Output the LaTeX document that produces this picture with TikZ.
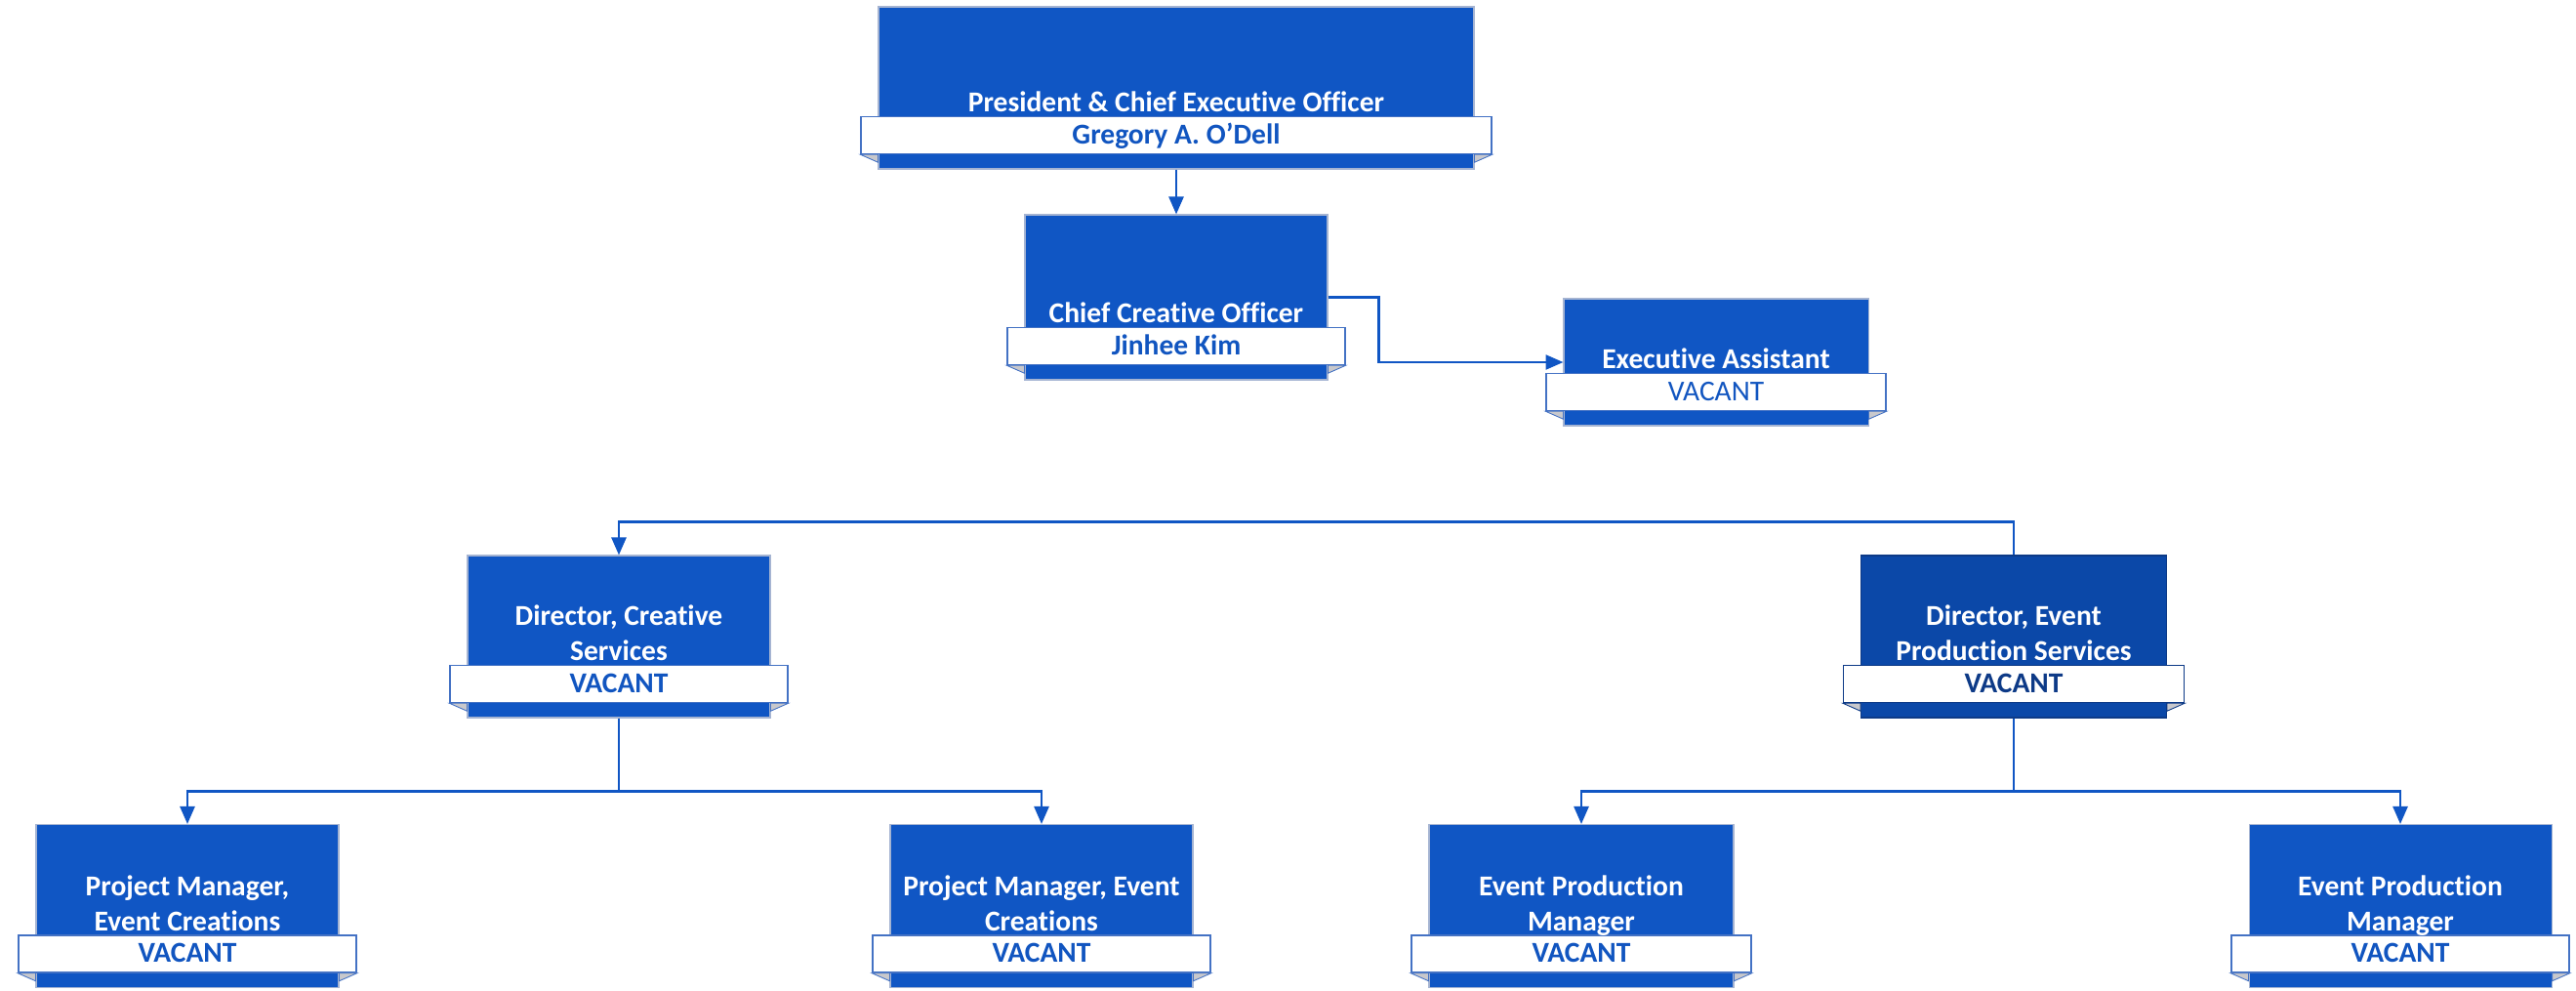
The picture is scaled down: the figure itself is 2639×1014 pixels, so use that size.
\documentclass[tikz,border=0pt]{standalone}
\usepackage{fontspec}
\setmainfont{Carlito}[Ligatures={TeX,NoCommon}]
\usetikzlibrary{arrows.meta}

\definecolor{boxblue}{RGB}{16,86,196}
\definecolor{deepblue}{RGB}{11,72,168}
\definecolor{edgegray}{RGB}{165,180,210}
\definecolor{ribbonedge}{RGB}{68,114,196}
\definecolor{nameblue}{RGB}{17,85,192}
\definecolor{navy}{RGB}{13,58,135}
\definecolor{foldgray}{RGB}{200,200,204}

\tikzset{
  box/.style={fill=boxblue, draw=edgegray, line width=0.6pt, inner sep=0pt},
  ribbon/.style={fill=white, draw=ribbonedge, line width=0.8pt, inner sep=0pt,
    text=nameblue, font=\bfseries\fontsize{16.8}{20.5}\selectfont,
    text height=13pt, text depth=3pt},
  fold/.style={fill=foldgray, draw=ribbonedge, line width=0.5pt},
  title/.style={text=white, font=\bfseries\fontsize{16.8}{20.5}\selectfont,
    align=center, inner sep=0pt, text depth=0pt, anchor=south},
  link/.style={draw=boxblue, line width=1.4pt, -{Triangle[length=0.36cm, width=0.3cm]}}
}

\begin{document}
\begin{tikzpicture}[x=0.02cm, y=-0.02cm]
    \useasboundingbox (0,0) rectangle (2639,1014);

    % orgbox[name, x, y, width, height]{title}{person}
    \def\orgbox[#1, #2, #3, #4, #5]#6#7{
    \node[box, minimum width=#4*0.02cm, minimum height=#5*0.02cm] (#1) at (#2,#3) {};
    \node[ribbon, minimum width=#4*0.02cm+0.72cm, minimum height=0.76cm]
      (#1-n) at ([yshift=0.7cm]#1.south) {#7};
    \filldraw[fold] (#1-n.south west) -- (#1-n.south west -| #1.west) -- ++(0,8) -- cycle;
    \filldraw[fold] (#1-n.south east) -- (#1-n.south east -| #1.east) -- ++(0,8) -- cycle;
    \node[title] (#1-t) at ([yshift=0.07cm]#1-n.north) {#6};
    }

    % top
    \orgbox[pres, 1205, 90, 610, 166]{President \& Chief Executive Officer}{Gregory A. O'Dell}
    \orgbox[cco, 1205, 304.5, 310, 169]{Chief Creative Officer}{Jinhee Kim}
    \begin{scope}[ribbon/.append style={font=\fontsize{16.8}{20.5}\selectfont}]
    \orgbox[ea, 1758, 371, 312, 130]{Executive Assistant}{VACANT}
    \end{scope}

    % directors
    \orgbox[dirC, 634, 652, 310, 166]{Director, Creative\\Services}{VACANT}
    \begin{scope}[box/.append style={fill=deepblue, draw=navy},
      ribbon/.append style={draw=navy, text=navy}, fold/.append style={draw=navy}]
    \orgbox[dirE, 2063, 652, 313, 166]{Director, Event\\Production Services}{VACANT}
    \end{scope}

    % managers
    \orgbox[pm1, 192, 928, 310, 167]{Project Manager,\\Event Creations}{VACANT}
    \orgbox[pm2, 1067, 928, 310, 167]{Project Manager, Event\\Creations}{VACANT}
    \orgbox[epm1, 1620, 928, 312, 167]{Event Production\\Manager}{VACANT}
    \orgbox[epm2, 2459, 928, 310, 167]{Event Production\\Manager}{VACANT}

    % Arrows
    \draw[link] (pres.south) -- (cco.north);
    \draw[link] (cco.east) -- ++(52,0) |- (ea.west);
    \draw[link] (dirE.north) -- ++(0,-34) -| (dirC.north);
    \draw[link] (dirC.south) -- ++(0,75) -| (pm1.north);
    \draw[link] (dirC.south) -- ++(0,75) -| (pm2.north);
    \draw[link] (dirE.south) -- ++(0,75) -| (epm1.north);
    \draw[link] (dirE.south) -- ++(0,75) -| (epm2.north);

\end{tikzpicture}
\end{document}
